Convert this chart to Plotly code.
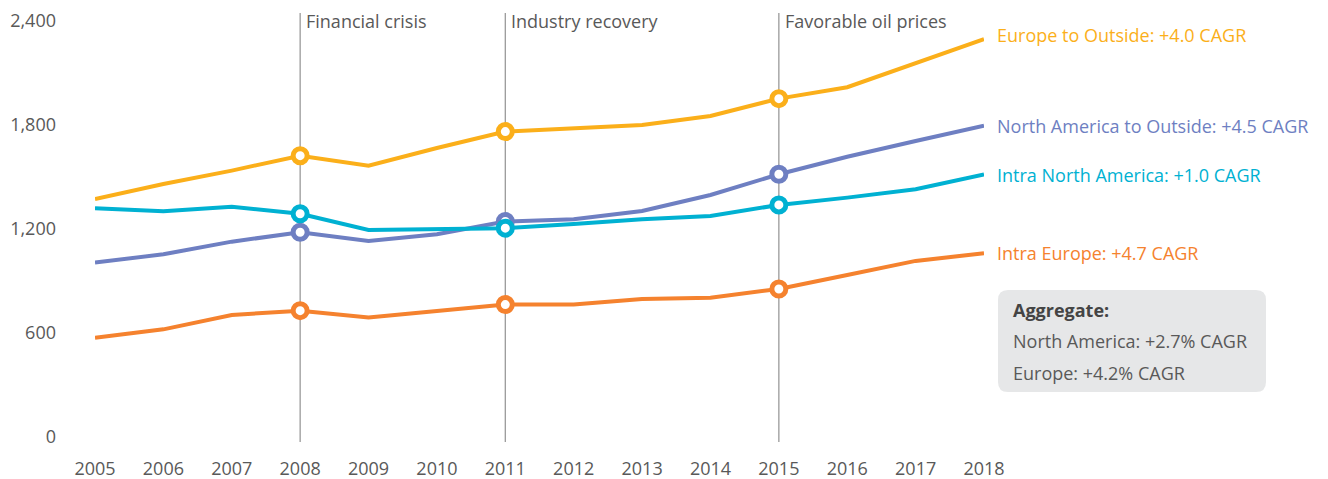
import plotly.graph_objects as go

years = list(range(2005, 2019))
europe_outside = [1373, 1460, 1537, 1623, 1565, 1667, 1762, 1779, 1800, 1852, 1952, 2018, 2156, 2295]
na_outside = [1006, 1054, 1127, 1181, 1131, 1170, 1243, 1256, 1304, 1396, 1516, 1617, 1708, 1796]
intra_na = [1319, 1302, 1329, 1288, 1194, 1202, 1205, 1229, 1256, 1275, 1339, 1381, 1429, 1514]
intra_europe = [573, 621, 704, 729, 689, 727, 764, 765, 796, 804, 854, 935, 1016, 1060]

series_names = ["Europe to Outside", "North America to Outside", "Intra North America", "Intra Europe"]
series_values = [europe_outside, na_outside, intra_na, intra_europe]
series_cagr = ["+4.0 CAGR", "+4.5 CAGR", "+1.0 CAGR", "+4.7 CAGR"]
colors = ["#FBAF1A", "#6E7FC2", "#00B1D2", "#F5822E"]
label_shift = [4, 0, 0, 0]

event_years = [2008, 2011, 2015]
event_labels = ["Financial crisis", "Industry recovery", "Favorable oil prices"]

y_ticks = [0, 600, 1200, 1800, 2400]
y_ticklabels = ["0", "600", "1,200", "1,800", "2,400"]

aggregate_title = "Aggregate:"
aggregate_lines = ["North America: +2.7% CAGR", "Europe: +4.2% CAGR"]

FONT = "Open Sans"
FS = 18
TXT = "#595959"
OFF = 8  # default page body margin
W, H = 1328 - OFF, 479 - OFF
ML, MT = 95 - OFF, 21 - OFF
MR = W - (984 - OFF)
MB = H - (437 - OFF)
PW = W - ML - MR
PH = H - MT - MB

def px_x(px):
    return (px - OFF - ML) / PW

def px_y(py):
    return 1 - (py - OFF - MT) / PH

fig = go.Figure()

for name, vals, col in zip(series_names, series_values, colors):
    fig.add_trace(go.Scatter(
        x=years, y=vals, mode="lines", name=name,
        line=dict(color=col, width=4), hoverinfo="x+y",
    ))
    ev_y = [vals[years.index(e)] for e in event_years]
    fig.add_trace(go.Scatter(
        x=event_years, y=ev_y, mode="markers", showlegend=False,
        marker=dict(size=14, color="white", line=dict(color=col, width=5)),
        cliponaxis=False, hoverinfo="skip",
    ))

shapes = []
annotations = []
for ey, lab in zip(event_years, event_labels):
    shapes.append(dict(type="line", xref="x", yref="paper", x0=ey, x1=ey,
                       y0=px_y(442), y1=px_y(13), line=dict(color="#9a9a9a", width=1.3),
                       layer="below"))
    annotations.append(dict(x=ey, y=px_y(21), xref="x", yref="paper", text=lab,
                            showarrow=False, xanchor="left", yanchor="middle", xshift=4,
                            font=dict(family=FONT, size=FS, color=TXT)))

for name, vals, cagr, col, sh in zip(series_names, series_values, series_cagr, colors, label_shift):
    annotations.append(dict(x=years[-1], y=vals[-1], xref="x", yref="y",
                            text=f"{name}: {cagr}", showarrow=False,
                            xanchor="left", yanchor="middle", xshift=11, yshift=sh,
                            font=dict(family=FONT, size=FS, color=col)))

# rounded aggregate box (paper coords)
x0, x1 = px_x(998), px_x(1266)
y0, y1 = px_y(392), px_y(290)
rx, ry = 10 / PW, 10 / PH
path = (f"M {x0+rx},{y1} L {x1-rx},{y1} Q {x1},{y1} {x1},{y1-ry} "
        f"L {x1},{y0+ry} Q {x1},{y0} {x1-rx},{y0} L {x0+rx},{y0} "
        f"Q {x0},{y0} {x0},{y0+ry} L {x0},{y1-ry} Q {x0},{y1} {x0+rx},{y1} Z")
shapes.append(dict(type="path", xref="paper", yref="paper", path=path,
                   fillcolor="#E6E7E8", line=dict(width=0), layer="below"))

annotations.append(dict(x=px_x(1011), y=px_y(310), xref="paper", yref="paper",
                        text=f"<b>{aggregate_title}</b>", showarrow=False,
                        xanchor="left", yanchor="middle",
                        font=dict(family=FONT, size=FS, color="#444444")))
for i, line in enumerate(aggregate_lines):
    annotations.append(dict(x=px_x(1011), y=px_y(341 + 32 * i), xref="paper", yref="paper",
                            text=line, showarrow=False, xanchor="left", yanchor="middle",
                            font=dict(family=FONT, size=FS, color=TXT)))

fig.update_layout(
    width=W, height=H,
    margin=dict(l=ML, r=MR, t=MT, b=MB, autoexpand=False),
    paper_bgcolor="white", plot_bgcolor="white",
    showlegend=False,
    shapes=shapes, annotations=annotations,
    font=dict(family=FONT, size=FS, color=TXT),
    xaxis=dict(range=[years[0], years[-1]], tickmode="array", tickvals=years,
               ticktext=[str(y) for y in years], showgrid=False, zeroline=False,
               showline=False, ticks="", ticklabelstandoff=19, automargin=False,
               tickfont=dict(family=FONT, size=FS, color=TXT)),
    yaxis=dict(range=[0, 2400], tickmode="array", tickvals=y_ticks, ticktext=y_ticklabels,
               showgrid=False, zeroline=False, showline=False, ticks="",
               ticklabelstandoff=38, automargin=False,
               tickfont=dict(family=FONT, size=FS, color=TXT)),
)

fig.write_html("out.html")
